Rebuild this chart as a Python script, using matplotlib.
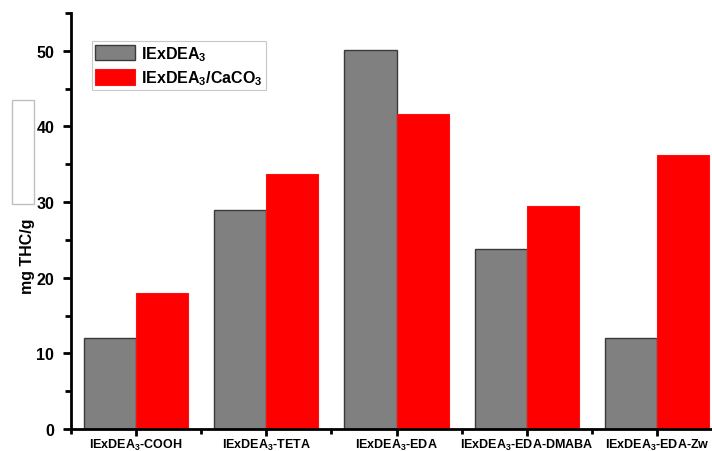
import numpy as np
import matplotlib
matplotlib.use('Agg')
import matplotlib.pyplot as plt
from matplotlib.patches import Rectangle
from matplotlib.ticker import MultipleLocator

plt.rcParams['font.family'] = 'Liberation Sans'
plt.rcParams['font.weight'] = 'bold'
plt.rcParams['mathtext.fontset'] = 'custom'
plt.rcParams['mathtext.rm'] = 'Liberation Sans:bold'
plt.rcParams['mathtext.it'] = 'Liberation Sans:bold'
plt.rcParams['mathtext.bf'] = 'Liberation Sans:bold'

# THC uptake per sample
samples = ['IExDEA$_3$-COOH', 'IExDEA$_3$-TETA', 'IExDEA$_3$-EDA',
           'IExDEA$_3$-EDA-DMABA', 'IExDEA$_3$-EDA-Zw']
plain = [12.0, 28.9, 50.1, 23.8, 12.0]
with_caco3 = [18.0, 33.7, 41.6, 29.5, 36.2]
series_names = ['IExDEA$_3$', 'IExDEA$_3$/CaCO$_3$']

fig = plt.figure(figsize=(7.12, 4.52), dpi=100)
# axes runs a bit past the right edge of the figure
ax = fig.add_axes([71 / 712, 22 / 452, 651 / 712, 416 / 452])

x = np.arange(len(samples))
w = 0.4
ax.bar(x - w / 2, plain, w, color='#808080', edgecolor='#3a3a3a', linewidth=1.0,
       label=series_names[0])
ax.bar(x + w / 2, with_caco3, w, color='#ff0000', edgecolor='#ff1010', linewidth=0.8,
       label=series_names[1])

ax.set_xlim(-0.5, 4.5)
ax.set_ylim(0, 55)
ax.set_xticks(x)
ax.set_xticklabels(samples, fontsize=9, fontweight='bold')
ax.set_xticks(np.arange(-0.5, 5, 1.0), minor=True)
ax.yaxis.set_major_locator(MultipleLocator(10))
ax.yaxis.set_minor_locator(MultipleLocator(5))
ax.tick_params(axis='y', which='major', length=6, width=2, labelsize=11.5, pad=6)
ax.tick_params(axis='y', which='minor', length=4, width=2)
ax.tick_params(axis='x', which='major', length=5, width=2, pad=1)
ax.tick_params(axis='x', which='minor', length=3.5, width=2)
for s in ['top', 'right']:
    ax.spines[s].set_visible(False)
for s in ['left', 'bottom']:
    ax.spines[s].set_linewidth(2)

ax.set_ylabel('mg THC/g', fontsize=11.5, fontweight='bold')
ax.yaxis.set_label_coords(-0.055, 0.418)

leg = ax.legend(loc='upper left', bbox_to_anchor=(0.032, 0.933), fontsize=11.5,
                fancybox=False, edgecolor='#c8c8c8', framealpha=1,
                handlelength=2.5, handleheight=1.1, borderpad=0.2,
                labelspacing=0.35, handletextpad=0.4, borderaxespad=0)
leg.get_frame().set_linewidth(0.8)

# empty outlined box left of the axis
fig.patches.append(Rectangle((12 / 712, 1 - 205 / 452), 22 / 712, 104 / 452,
                             transform=fig.transFigure, facecolor='white',
                             edgecolor='#c0c0c0', linewidth=1.0))

fig.savefig('out.png', dpi=100)
